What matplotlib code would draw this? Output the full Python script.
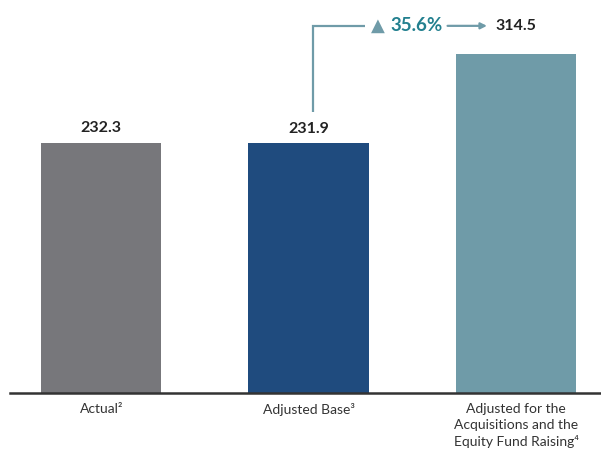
import matplotlib
matplotlib.use("Agg")
import matplotlib.pyplot as plt

plt.rcParams["font.family"] = ["Lato", "DejaVu Sans"]

categories = ["Actual\u00b2", "Adjusted Base\u00b3",
              "Adjusted for the\nAcquisitions and the\nEquity Fund Raising\u2074"]
values = [232.3, 231.9, 314.5]
growth_label = "35.6%"

BAR_COLORS = ["#77777b", "#1f4b7e", "#6f9ba8"]
LINE_COLOR = "#6f9ba8"
TEAL_TEXT = "#23808f"
TEXT_DARK = "#222222"

fig = plt.figure(figsize=(6.01, 4.57), dpi=100)
ax = fig.add_axes([10 / 601, 64 / 457, 591 / 601, 393 / 457])

x = list(range(len(values)))
ax.bar(x, values, width=0.58, color=BAR_COLORS)
ax.set_xlim(-0.44, 2.41)
ax.set_ylim(0, 365)

# value labels above first two bars
for xi, v in zip(x[:2], values[:2]):
    ax.text(xi, v + 7, f"{v:.1f}", ha="center", va="bottom",
            fontsize=11.5, fontweight="bold", color=TEXT_DARK)

# bracket: growth from adjusted base to final
y_br = 341
ax.plot([1.02, 1.02, 1.27], [261, y_br, y_br], color=LINE_COLOR,
        linewidth=1.6, solid_capstyle="butt", solid_joinstyle="miter")
ax.text(1.335, y_br, "\u25b2", ha="center", va="center",
        fontsize=13, color=LINE_COLOR, family=["DejaVu Sans"])
ax.text(1.395, y_br, growth_label, ha="left", va="center",
        fontsize=13.5, fontweight="bold", color=TEAL_TEXT)
ax.annotate("", xy=(1.86, y_br), xytext=(1.67, y_br),
            arrowprops=dict(arrowstyle="-|>", color=LINE_COLOR, lw=1.6,
                            mutation_scale=9, shrinkA=0, shrinkB=0))
ax.text(2, y_br, f"{values[2]:.1f}", ha="center", va="center",
        fontsize=11.5, fontweight="bold", color=TEXT_DARK)

ax.set_xticks(x)
ax.set_xticklabels(categories, fontsize=10, color="#333333", linespacing=1.4)
ax.tick_params(axis="x", length=0, pad=7)
ax.set_yticks([])
for side in ["top", "right", "left"]:
    ax.spines[side].set_visible(False)
ax.spines["bottom"].set_color("#333333")
ax.spines["bottom"].set_linewidth(1.8)

fig.savefig("out.png", dpi=100, facecolor="white")
